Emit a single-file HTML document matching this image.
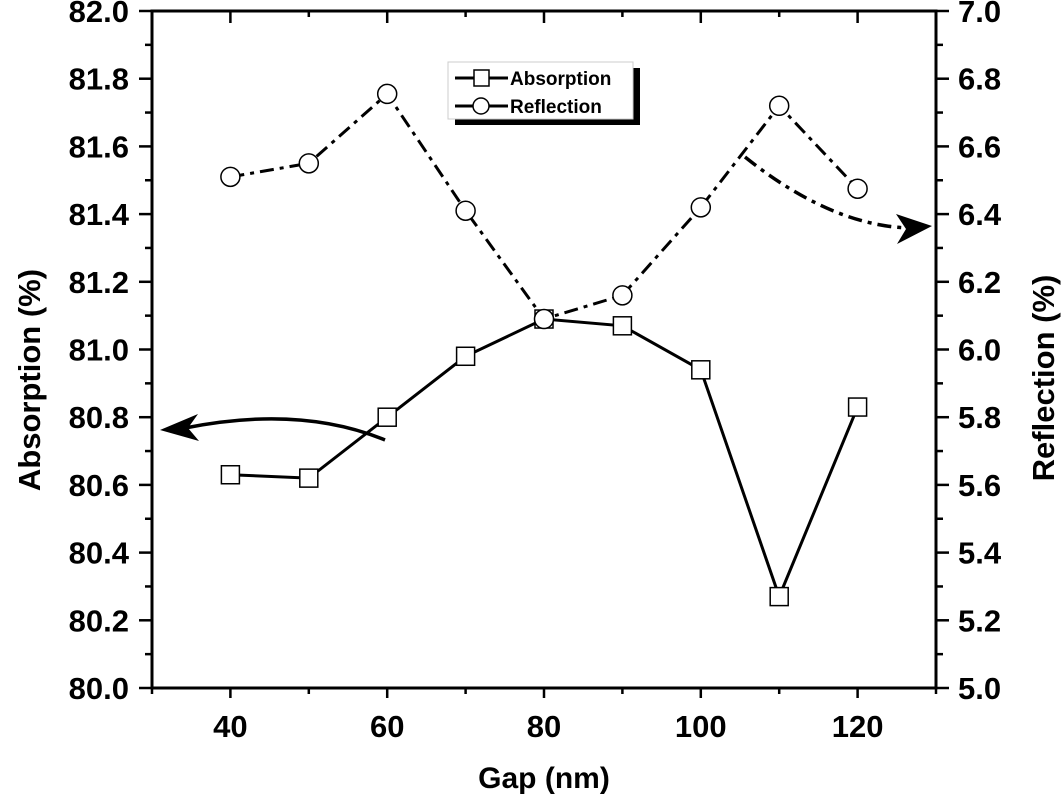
<!DOCTYPE html>
<html><head><meta charset="utf-8"><style>
body{margin:0;background:#fff;}
svg text{font-family:"Liberation Sans",Arial,sans-serif;font-weight:bold;fill:#000;}
</style></head><body>
<svg id="chart" width="1064" height="800" viewBox="0 0 1064 800">
<g id="g"></g>
</svg>
<script>
const gapValues=[40,50,60,70,80,90,100,110,120];
const absorption=[80.63,80.62,80.80,80.98,81.09,81.07,80.94,80.27,80.83];
const reflection=[6.51,6.55,6.755,6.41,6.09,6.16,6.42,6.72,6.475];
const xTicks=[40,60,80,100,120];
const yLeftTicks=["80.0","80.2","80.4","80.6","80.8","81.0","81.2","81.4","81.6","81.8","82.0"];
const yRightTicks=["5.0","5.2","5.4","5.6","5.8","6.0","6.2","6.4","6.6","6.8","7.0"];
const L=152,R=936,T=11,B=688;
const xs=v=>L+(v-30)/100*(R-L);
const yl=v=>B-(v-80)/2*(B-T);
const yr=v=>B-(v-5)/2*(B-T);
const g=document.getElementById('g');
const NS='http://www.w3.org/2000/svg';
function mk(t,a,p){const e=document.createElementNS(NS,t);for(const k in a)e.setAttribute(k,a[k]);(p||g).appendChild(e);return e;}
let e=mk('rect',{x:L,y:T,width:R-L,height:B-T,fill:'none',stroke:'#000','stroke-width':3});


for(let v=30;v<=130;v+=10){const x=xs(v);const big=(v%20===0);
mk('line',{x1:x,x2:x,y1:B,y2:B+(big?10:6),stroke:'#000','stroke-width':2.5});
mk('line',{x1:x,x2:x,y1:T,y2:T+(big?12:6),stroke:'#000','stroke-width':2.5});}
xTicks.forEach(v=>{e=mk('text',{x:xs(v),y:737,'text-anchor':'middle','font-size':31});e.textContent=v;

});
for(let i=0;i<=20;i++){const y=B-i*(B-T)/20;const big=i%2===0;
mk('line',{x1:L,x2:L-(big?13:7),y1:y,y2:y,stroke:'#000','stroke-width':2.5});
mk('line',{x1:R,x2:R+(big?13:7),y1:y,y2:y,stroke:'#000','stroke-width':2.5});}
yLeftTicks.forEach((s,i)=>{e=mk('text',{x:L-23,y:yl(80+i*0.2)+11,'text-anchor':'end','font-size':31});e.textContent=s;

});
yRightTicks.forEach((s,i)=>{e=mk('text',{x:R+22,y:yr(5+i*0.2)+11,'text-anchor':'start','font-size':31});e.textContent=s;

});
e=mk('text',{x:(L+R)/2,y:788,'text-anchor':'middle','font-size':30});e.textContent='Gap (nm)';


e=mk('text',{x:0,y:0,'text-anchor':'middle','font-size':31,transform:'translate(40,380) rotate(-90)'});e.textContent='Absorption (%)';


e=mk('text',{x:0,y:0,'text-anchor':'middle','font-size':31,transform:'translate(1054,378) rotate(-90)'});e.textContent='Reflection (%)';


e=mk('polyline',{points:gapValues.map((v,i)=>xs(v)+','+yl(absorption[i])).join(' '),fill:'none',stroke:'#000','stroke-width':3});


e=mk('polyline',{points:gapValues.map((v,i)=>xs(v)+','+yr(reflection[i])).join(' '),fill:'none',stroke:'#000','stroke-width':3,'stroke-dasharray':'14,6,4,6'});


gapValues.forEach((v,i)=>{e=mk('rect',{x:xs(v)-9,y:yl(absorption[i])-9,width:18,height:18,fill:'#fff',stroke:'#000','stroke-width':1.5});


e=mk('circle',{cx:xs(v),cy:yr(reflection[i]),r:9.5,fill:'#fff',stroke:'#000','stroke-width':1.5});

});
e=mk('path',{d:'M385,440 Q300,405 185,428',fill:'none',stroke:'#000','stroke-width':3.5});


mk('polygon',{points:'160,430 198,414 188,428 199,441',fill:'#000'});
e=mk('path',{d:'M745,157 Q830,225 908,228',fill:'none',stroke:'#000','stroke-width':3.5,'stroke-dasharray':'14,6,4,6'});


mk('polygon',{points:'932,226 897,244 906,229 896,214',fill:'#000'});
const lg=mk('g',{});


mk('rect',{x:455,y:68,width:185,height:57,fill:'#000'},lg);
mk('rect',{x:448,y:62,width:185,height:57,fill:'#fff',stroke:'#ccc','stroke-width':1},lg);
mk('line',{x1:455,x2:508,y1:78,y2:78,stroke:'#000','stroke-width':3},lg);
mk('rect',{x:474,y:70,width:15,height:16,fill:'#fff',stroke:'#000','stroke-width':1.5},lg);
mk('line',{x1:455,x2:508,y1:106,y2:106,stroke:'#000','stroke-width':3},lg);
mk('circle',{cx:481,cy:106,r:8,fill:'#fff',stroke:'#000','stroke-width':1.5},lg);
e=mk('text',{x:510,y:85,'font-size':19},lg);e.textContent='Absorption';


e=mk('text',{x:510,y:113,'font-size':19},lg);e.textContent='Reflection';


</script>
</body></html>
